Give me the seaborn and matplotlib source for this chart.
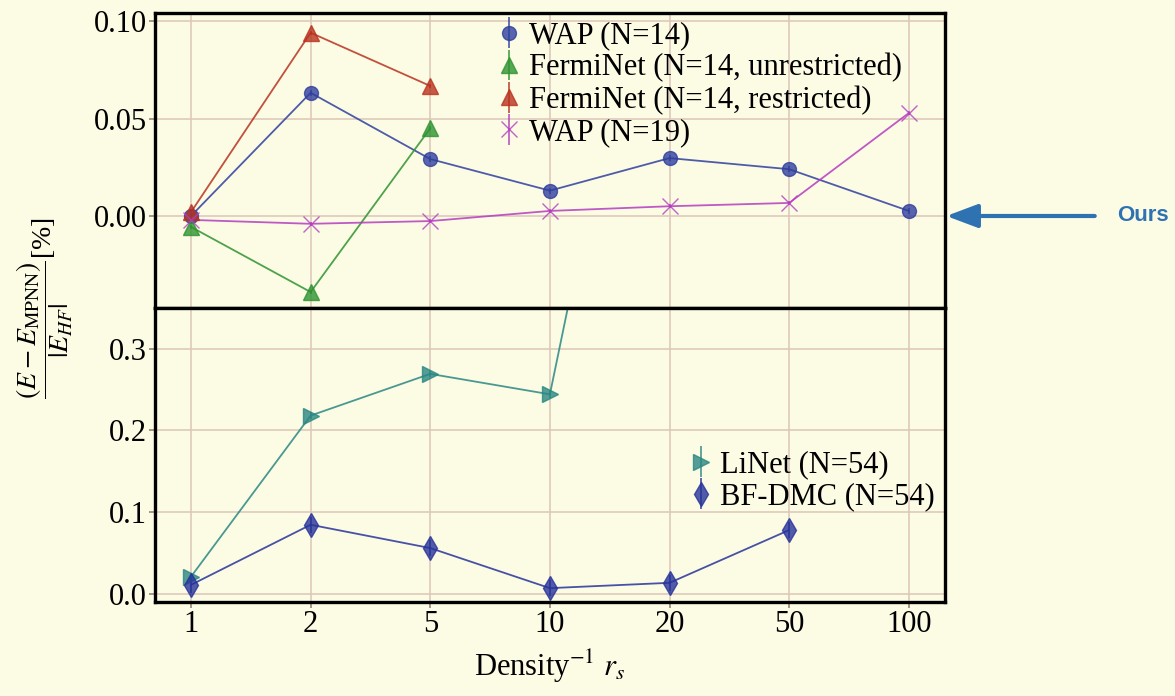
#bibliotecas
import numpy as np
import matplotlib
matplotlib.use('Agg')
import matplotlib.pyplot as plt
import seaborn as sns
from matplotlib.ticker import FormatStrFormatter

#dados
rs_labels = ['1', '2', '5', '10', '20', '50', '100']

wap14 = [0.000, 0.0632, 0.0292, 0.0130, 0.0297, 0.0240, 0.0026]
wap14_err = [0.0015, 0.0015, 0.0015, 0.0015, 0.0015, 0.0015, 0.0015]

ferminet_unres = [-0.0056, -0.0390, 0.0450]
ferminet_unres_err = [0.0010, 0.0010, 0.0010]

ferminet_res = [0.0020, 0.0940, 0.0667]
ferminet_res_err = [0.0010, 0.0010, 0.0010]

wap19 = [-0.0020, -0.0040, -0.0026, 0.0026, 0.0050, 0.0067, 0.0528]
wap19_err = [0.0010, 0.0010, 0.0010, 0.0010, 0.0010, 0.0010, 0.0010]

linet = [0.021, 0.218, 0.269, 0.244, 0.950]
linet_err = [0.004, 0.004, 0.004, 0.004, 0.004]

bfdmc = [0.011, 0.0845, 0.056, 0.007, 0.0135, 0.078]
bfdmc_err = [0.010, 0.010, 0.010, 0.010, 0.010, 0.010]

#estilo
bg = '#fcfbe4'
sns.set_theme(style='whitegrid', rc={
    'figure.facecolor': bg,
    'axes.facecolor': bg,
    'savefig.facecolor': bg,
    'grid.color': '#dcc6b8',
    'grid.linewidth': 1.1,
    'axes.edgecolor': 'black',
    'axes.linewidth': 2.4,
    'text.color': 'black',
    'axes.labelcolor': 'black',
    'xtick.bottom': True,
    'ytick.left': True,
    'xtick.major.size': 4,
    'ytick.major.size': 4,
    'xtick.color': '#9a8a80',
    'ytick.color': '#9a8a80',
    'xtick.labelcolor': 'black',
    'ytick.labelcolor': 'black',
    'legend.labelcolor': 'black',
    'mathtext.fontset': 'stix',
})
plt.rcParams['font.family'] = ['Liberation Serif', 'DejaVu Serif']

fs = 22

fig, (ax1, ax2) = plt.subplots(2, 1, figsize=(11.75, 6.96), dpi=100, sharex=True)
fig.subplots_adjust(left=0.132, right=0.804, top=0.981, bottom=0.135, hspace=0)


def serie(ax, vals, err, color, marker, ms, label):
    x = np.arange(len(vals))
    sns.lineplot(x=x, y=vals, ax=ax, color=color, lw=1.3, alpha=0.85, legend=False)
    ax.errorbar(x, vals, yerr=err, fmt=marker, ls='none', color=color, ms=ms,
                alpha=0.8, elinewidth=1.3, capsize=0, label=label)


#painel superior
serie(ax1, wap14, wap14_err, '#2f3f9e', 'o', 10, 'WAP (N=14)')
serie(ax1, ferminet_unres, ferminet_unres_err, '#2e9330', '^', 11, 'FermiNet (N=14, unrestricted)')
serie(ax1, ferminet_res, ferminet_res_err, '#b8321f', '^', 11, 'FermiNet (N=14, restricted)')
serie(ax1, wap19, wap19_err, '#b43cc0', 'x', 11, 'WAP (N=19)')

ax1.set_ylim(-0.047, 0.104)
ax1.set_yticks([0.0, 0.05, 0.10])
ax1.yaxis.set_major_formatter(FormatStrFormatter('%.2f'))
ax1.tick_params(axis='x', length=0)
ax1.legend(loc='upper left', bbox_to_anchor=(0.413, 1.035), frameon=False, fontsize=fs,
           handlelength=0.6, handletextpad=0.35, labelspacing=0.1, borderpad=0.1)

#painel inferior
serie(ax2, linet, linet_err, '#2a8783', '>', 11, 'LiNet (N=54)')
serie(ax2, bfdmc, bfdmc_err, '#27339a', 'd', 12, 'BF-DMC (N=54)')

ax2.set_ylim(-0.01, 0.35)
ax2.set_yticks([0.0, 0.1, 0.2, 0.3])
ax2.yaxis.set_major_formatter(FormatStrFormatter('%.1f'))
ax2.set_xlim(-0.3, 6.3)
ax2.set_xticks(range(len(rs_labels)))
ax2.set_xticklabels(rs_labels)
ax2.legend(loc='upper left', bbox_to_anchor=(0.656, 0.578), frameon=False, fontsize=fs,
           handlelength=0.6, handletextpad=0.35, labelspacing=0.1, borderpad=0.1)

for ax in (ax1, ax2):
    ax.tick_params(labelsize=fs, pad=2)
    ax.grid(True)

ax2.set_xlabel(r'Density$^{-1}$ $r_s$', fontsize=fs, labelpad=6)
fig.text(0.038, 0.5575, r'$\dfrac{(E-E_{\mathrm{MPNN}})}{|E_{HF}|}$[%]', rotation=90,
         va='center', ha='center', fontsize=20)

#seta "Ours"
ax1.annotate('Ours', xy=(1.002, 0.0), xycoords=('axes fraction', 'data'),
             xytext=(0.973, 0.0), textcoords=('figure fraction', 'data'),
             ha='center', va='center', fontsize=16, fontweight='bold',
             color='#2e72b2', family='Liberation Sans',
             arrowprops=dict(arrowstyle='-|>,head_length=1.2,head_width=0.45',
                             color='#2e72b2', lw=3, shrinkA=14, shrinkB=0),
             annotation_clip=False)

fig.savefig('out.png', dpi=100)
